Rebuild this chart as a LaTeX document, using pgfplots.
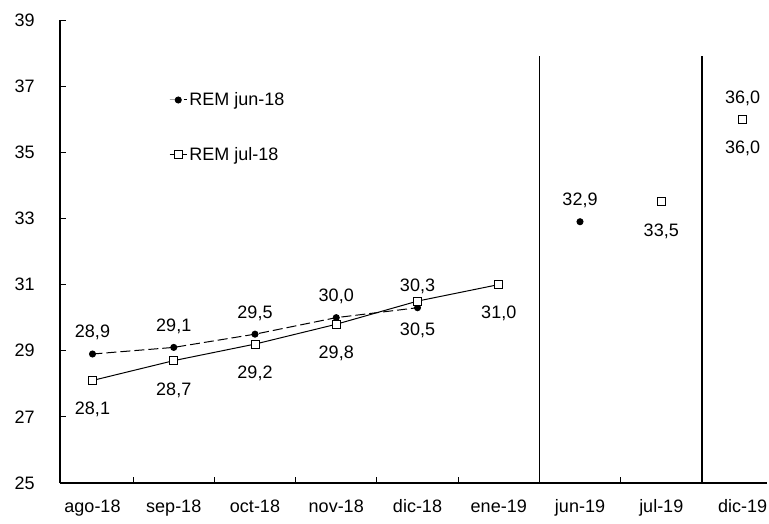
\documentclass[border=0pt]{standalone}
\usepackage{fontspec}
\setmainfont{Liberation Sans}
\usepackage{pgfplots}
\pgfplotsset{compat=1.18}
\begin{document}
\begin{tikzpicture}[x=1pt,y=1pt]
\useasboundingbox (0,0) rectangle (769,524);
\begin{axis}[
 at={(60pt,41pt)}, anchor=south west, scale only axis,
 width=706.9pt, height=463pt,
 xmin=-0.4, xmax=8.3, ymin=25, ymax=39,
 axis lines*=left, axis line style={line width=1.2pt},
 ytick={25,27,...,39},
 xtick={0.5,1.5,...,7.5}, xticklabels={},
 extra x ticks={0,...,8},
 extra x tick labels={ago-18,sep-18,oct-18,nov-18,dic-18,ene-19,jun-19,jul-19,dic-19},
 extra x tick style={major tick length=0pt, xticklabel style={yshift=-13pt}},
 tick style={black, line width=0.8pt}, major tick length=6pt,
 tick align=inside,
 ticklabel style={font=\fontsize{18}{20}\selectfont},
 yticklabel style={xshift=-49pt, anchor=west},
 /pgf/number format/assume math mode=true,
 unbounded coords=jump,
 clip=false,
 legend style={at={(0.15,0.852)}, anchor=north west, draw=none, fill=none,
   font=\fontsize{18}{20}\selectfont, row sep=36pt},
 legend cell align=left,
 nodes near coords style={font=\fontsize{18}{20}\selectfont,
   /pgf/number format/fixed, /pgf/number format/fixed zerofill,
   /pgf/number format/precision=1, /pgf/number format/use comma},
]
\addplot[black, line width=1pt, dash pattern=on 10pt off 4pt,
  mark=*, mark size=3pt, mark options={solid, fill=black},
  nodes near coords, nodes near coords align={above},
  every node near coord/.append style={yshift=10pt}]
 coordinates {(0,28.9) (1,29.1) (2,29.5) (3,30.0) (4,30.3) (5,nan) (6,32.9) (7,nan) (8,36.0)};
\addlegendentry{REM jun-18}
\addplot[black, line width=1pt,
  mark=square*, mark size=4pt, mark options={solid, fill=white},
  nodes near coords, nodes near coords align={below},
  every node near coord/.append style={yshift=-18pt}]
 coordinates {(0,28.1) (1,28.7) (2,29.2) (3,29.8) (4,30.5) (5,31.0) (6,nan) (7,33.5) (7.5,nan) (8,36.0)};
\addlegendentry{REM jul-18}
\addplot[black, line width=1.5pt, forget plot] coordinates {(5.5,25) (5.5,37.9)};
\addplot[black, line width=1.5pt, forget plot] coordinates {(7.5,25) (7.5,37.9)};
\end{axis}
\end{tikzpicture}
\end{document}
